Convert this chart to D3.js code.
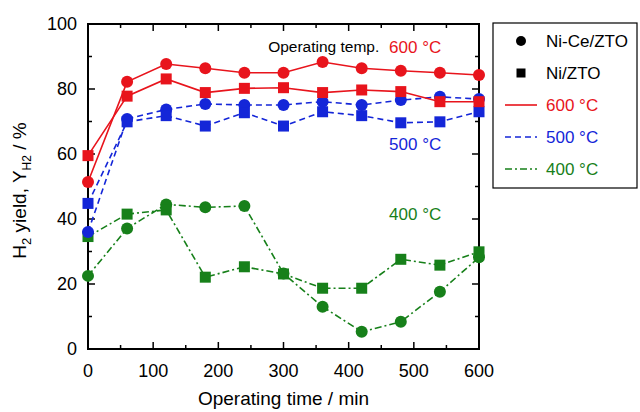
<!DOCTYPE html>
<html>
<head>
<meta charset="utf-8">
<script src="https://cdn.jsdelivr.net/npm/d3@7"></script>
<style>
  body { margin: 0; background: #fff; }
  svg { font-family: "Liberation Sans", Arial, sans-serif; }
</style>
</head>
<body>
<svg width="640" height="412"></svg>
<script>
const times = [0, 60, 120, 180, 240, 300, 360, 420, 480, 540, 600];

const niCe600 = [51.4, 82.2, 87.7, 86.4, 85.0, 85.0, 88.3, 86.4, 85.6, 85.0, 84.3];
const ni600   = [59.5, 77.8, 83.1, 78.9, 80.2, 80.4, 78.9, 79.7, 79.2, 76.1, 76.1];
const niCe500 = [36.0, 70.8, 73.7, 75.4, 75.1, 75.1, 76.1, 75.1, 76.6, 77.6, 76.9];
const ni500   = [44.8, 69.9, 71.8, 68.6, 72.7, 68.6, 73.0, 71.8, 69.6, 69.9, 73.0];
const niCe400 = [22.5, 37.1, 44.5, 43.6, 44.0, 23.2, 13.0, 5.3, 8.4, 17.6, 28.2];
const ni400   = [34.6, 41.5, 42.8, 22.1, 25.3, 23.1, 18.7, 18.7, 27.6, 25.8, 29.9];

const xTicks = [0, 100, 200, 300, 400, 500, 600];
const yTicks = [0, 20, 40, 60, 80, 100];

const red = "#e8141c", blue = "#1426d8", green = "#17801a";
const dashes = { solid: null, dash: "6,4", dashdot: "7,3,2,3" };

const series = [
    { vals: niCe400, color: green, dash: dashes.dashdot, shape: "circle" },
    { vals: ni400, color: green, dash: dashes.dashdot, shape: "square" },
    { vals: niCe500, color: blue, dash: dashes.dash, shape: "circle" },
    { vals: ni500, color: blue, dash: dashes.dash, shape: "square" },
    { vals: ni600, color: red, dash: dashes.solid, shape: "square" },
    { vals: niCe600, color: red, dash: dashes.solid, shape: "circle" }
];

const margin = { top: 24, right: 161, bottom: 63, left: 88 };
const width = 640 - margin.left - margin.right;
const height = 412 - margin.top - margin.bottom;

const svg = d3.select("svg")
    .append("g")
    .attr("transform", `translate(${margin.left}, ${margin.top})`);

const x = d3.scaleLinear().domain([0, 600]).range([0, width]);
const y = d3.scaleLinear().domain([0, 100]).range([height, 0]);

// inward ticks on all four sides
const minorX = d3.range(0, 601, 50), minorY = d3.range(0, 101, 10);
const tickG = svg.append("g").attr("stroke", "#000").attr("stroke-width", 1.5);
minorX.forEach(v => {
    const len = v % 100 === 0 ? 7 : 4;
    tickG.append("line").attr("x1", x(v)).attr("x2", x(v)).attr("y1", height).attr("y2", height - len);
    tickG.append("line").attr("x1", x(v)).attr("x2", x(v)).attr("y1", 0).attr("y2", len);
});
minorY.forEach(v => {
    const len = v % 20 === 0 ? 7 : 4;
    tickG.append("line").attr("x1", 0).attr("x2", len).attr("y1", y(v)).attr("y2", y(v));
    tickG.append("line").attr("x1", width).attr("x2", width - len).attr("y1", y(v)).attr("y2", y(v));
});

svg.append("rect")
    .attr("width", width).attr("height", height)
    .attr("fill", "none").attr("stroke", "#000").attr("stroke-width", 2);

svg.selectAll(".xl").data(xTicks).enter().append("text")
    .attr("x", d => x(d)).attr("y", height + 28)
    .attr("text-anchor", "middle").style("font-size", "18px")
    .text(d => d);

svg.selectAll(".yl").data(yTicks).enter().append("text")
    .attr("x", -11).attr("y", d => y(d) + 6)
    .attr("text-anchor", "end").style("font-size", "18px")
    .text(d => d);

svg.append("text")
    .attr("x", width / 2).attr("y", height + 56)
    .attr("text-anchor", "middle").style("font-size", "19px")
    .text("Operating time / min");

const yt = svg.append("text")
    .attr("transform", `translate(-62, ${height / 2 + 4}) rotate(-90)`)
    .attr("text-anchor", "middle").style("font-size", "19px");
yt.append("tspan").text("H");
yt.append("tspan").attr("dy", 5).style("font-size", "13px").text("2");
yt.append("tspan").attr("dy", -5).text(" yield,  Y");
yt.append("tspan").attr("dy", 5).style("font-size", "12px").text("H2");
yt.append("tspan").attr("dy", -5).text(" / %");

const line = d3.line().x((d, i) => x(times[i])).y(d => y(d));

function marker(g, shape, cx, cy, color, size) {
    if (shape === "circle") {
        g.append("circle").attr("cx", cx).attr("cy", cy).attr("r", size / 2).attr("fill", color);
    } else {
        g.append("rect").attr("x", cx - size / 2).attr("y", cy - size / 2)
            .attr("width", size).attr("height", size).attr("fill", color);
    }
}

series.forEach(s => {
    svg.append("path")
        .datum(s.vals)
        .attr("fill", "none")
        .attr("stroke", s.color)
        .attr("stroke-width", 1.6)
        .attr("stroke-dasharray", s.dash)
        .attr("d", line);
    const g = svg.append("g");
    s.vals.forEach((v, i) => marker(g, s.shape, x(times[i]), y(v), s.color, s.shape === "circle" ? 12 : 11));
});

// annotations
svg.append("text").attr("x", x(447)).attr("y", y(93) + 5)
    .attr("text-anchor", "end").style("font-size", "15.5px").text("Operating temp.");
svg.append("text").attr("x", x(462)).attr("y", y(93) + 6)
    .attr("fill", red).style("font-size", "17px").text("600 °C");
svg.append("text").attr("x", x(462)).attr("y", y(63) + 6)
    .attr("fill", blue).style("font-size", "17px").text("500 °C");
svg.append("text").attr("x", x(462)).attr("y", y(41.5) + 6)
    .attr("fill", green).style("font-size", "17px").text("400 °C");

// legend
const legend = d3.select("svg").append("g").attr("transform", "translate(493, 23)");
legend.append("rect").attr("width", 144).attr("height", 165)
    .attr("fill", "#fff").attr("stroke", "#000").attr("stroke-width", 1.2);

const legendItems = [
    { label: "Ni-Ce/ZTO", color: "#000", shape: "circle", textColor: "#000" },
    { label: "Ni/ZTO", color: "#000", shape: "square", textColor: "#000" },
    { label: "600 °C", color: red, dash: dashes.solid, textColor: red },
    { label: "500 °C", color: blue, dash: dashes.dash, textColor: blue },
    { label: "400 °C", color: green, dash: dashes.dashdot, textColor: green }
];
legendItems.forEach((d, i) => {
    const ly = 18 + i * 32;
    if (d.shape) {
        marker(legend, d.shape, 28, ly, d.color, d.shape === "circle" ? 10 : 9);
    } else {
        legend.append("line").attr("x1", 12).attr("x2", 44).attr("y1", ly).attr("y2", ly)
            .attr("stroke", d.color).attr("stroke-width", 1.6)
            .attr("stroke-dasharray", d.dash);
    }
    legend.append("text").attr("x", 53).attr("y", ly + 6)
        .attr("fill", d.textColor).style("font-size", "17px").text(d.label);
});
</script>
</body>
</html>
